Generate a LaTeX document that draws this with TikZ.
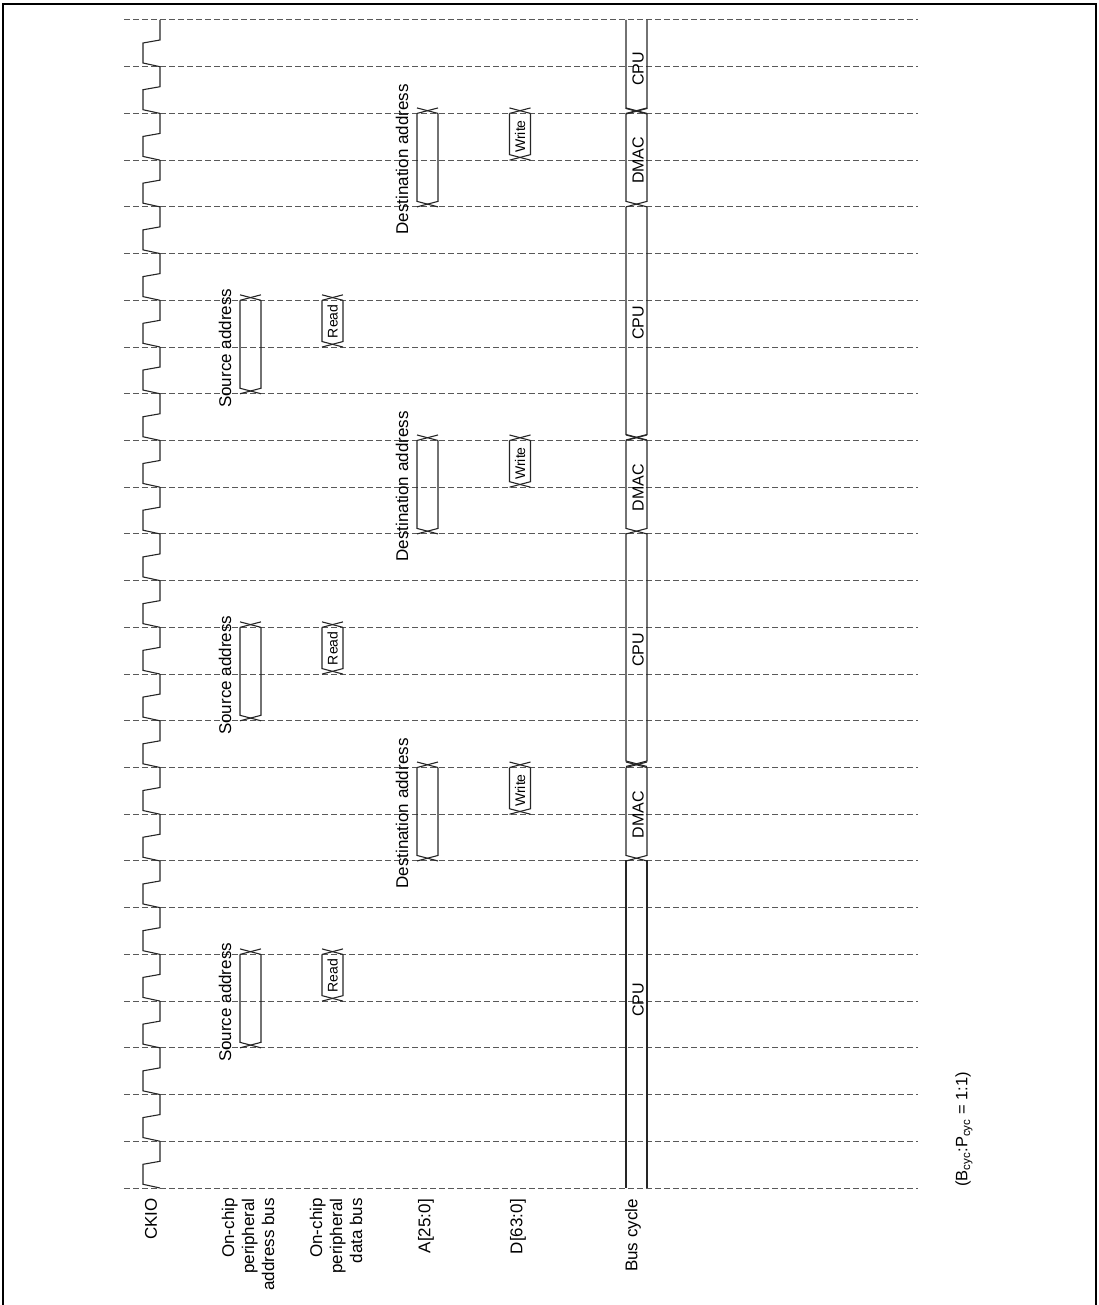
\documentclass[tikz,border=0pt]{standalone}
\usepackage{fontspec}
\setmainfont{Liberation Sans}
\usepackage{tikz}

\newcommand{\busx}[4]{%
    \pgfmathsetmacro{\ya}{20+46.72*(#3)}
    \pgfmathsetmacro{\yb}{20+46.72*(#4)}
    \draw[wave] (#1,\ya-5.5) -- (#2,\ya);
    \draw[wave] (#2,\ya-5.5) -- (#1,\ya);
    \draw[wave] (#1,\ya) -- (#1,\yb-5.5) -- (#2,\yb);
    \draw[wave] (#2,\ya) -- (#2,\yb-5.5) -- (#1,\yb);
}

\begin{document}
\begin{tikzpicture}[x=1pt,y=-1pt,
        grid/.style={line width=1pt,black!65,dash pattern=on 5.5pt off 3.5pt},
        wave/.style={line width=1.1pt,black!85},
        lab/.style={rotate=90,inner sep=0pt,font=\fontsize{17}{20}\selectfont,align=right},
        buslab/.style={rotate=90,inner sep=0pt,font=\fontsize{16}{18}\selectfont},
        small/.style={rotate=90,inner sep=0pt,font=\fontsize{14}{16}\selectfont}]

    \useasboundingbox (0,0) rectangle (1099,1305);
    \draw[line width=2.7pt] (3,1305) -- (3,4) -- (1096,4) -- (1096,1305);

    \foreach \i in {0,...,25}
        \draw[grid] (124,20+46.72*\i) -- (918,20+46.72*\i);

    \foreach \i in {0,...,24}
        \draw[wave] (160,20+46.72*\i) -- ++(0,20) -- ++(-17,3) -- ++(0,20) -- ++(17,3.7);

    \foreach \i in {6,13,20} {
        \busx{240}{261}{\i}{\i+2}
        \busx{322}{343}{\i}{\i+1}
        \node[lab] (src\i) at (225,20+46.72*\i+48) {Source address};
        \node[small] (read\i) at (332.5,20+46.72*\i+21) {Read};
    }
    \foreach \i in {2,9,16} {
        \busx{417}{438}{\i}{\i+2}
        \busx{509.5}{530.5}{\i}{\i+1}
        \busx{626}{647}{\i}{\i+2}
        \node[lab] (dst\i) at (402,20+46.72*\i+46) {Destination address};
        \node[small] (write\i) at (520,20+46.72*\i+23) {Write};
        \node[buslab] (dmac\i) at (638,20+46.72*\i+47) {DMAC};
    }

    \draw[wave] (626,20) -- (626,108.5) -- (647,114);
    \draw[wave] (647,20) -- (647,108.5) -- (626,114);
    \draw[wave] (626,207) -- (626,434.5) -- (647,440);
    \draw[wave] (647,207) -- (647,434.5) -- (626,440);
    \draw[wave] (626,533) -- (626,761) -- (647,766.5);
    \draw[wave] (647,533) -- (647,761) -- (626,766.5);
    \draw[wave] (626,860) -- (626,1188);
    \draw[wave] (647,860) -- (647,1188);

    \node[buslab] (cpu1) at (638,69) {CPU};
    \node[buslab] (cpu2) at (638,323) {CPU};
    \node[buslab] (cpu3) at (638,650) {CPU};
    \node[buslab] (cpu4) at (638,1000) {CPU};

    \node[lab,anchor=east] (ckio) at (151,1198) {CKIO};
    \node[lab,anchor=east] (addrbus) at (248,1198) {On-chip\\peripheral\\address bus};
    \node[lab,anchor=east] (databus) at (336,1198) {On-chip\\peripheral\\data bus};
    \node[lab,anchor=east] (addr) at (426,1199) {A[25:0]};
    \node[lab,anchor=east] (data) at (518,1199) {D[63:0]};
    \node[lab,anchor=east] (cycle) at (633,1199) {Bus cycle};
    \node[rotate=90,inner sep=0pt,font=\fontsize{16.5}{20}\selectfont,anchor=west] (ratio) at (964,1187)
        {(B\textsubscript{cyc}:P\textsubscript{cyc} = 1:1)};
\end{tikzpicture}
\end{document}
